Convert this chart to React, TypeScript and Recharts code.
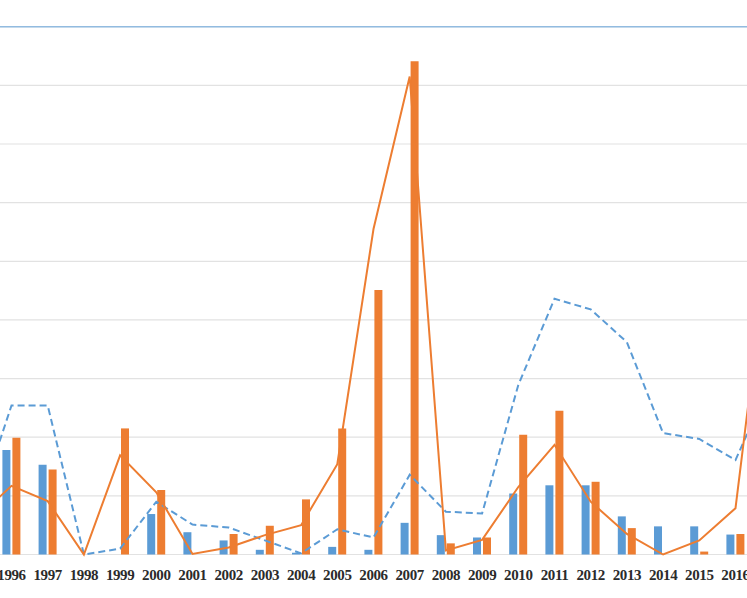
import React from "react";
import {
  ComposedChart,
  Bar,
  Line,
  XAxis,
  YAxis,
  CartesianGrid,
  ReferenceLine,
} from "recharts";

// years, incl. one off-screen category on each side (the original chart is cropped)
const years = [
  "1995", "1996", "1997", "1998", "1999", "2000", "2001", "2002", "2003", "2004", "2005", "2006",
  "2007", "2008", "2009", "2010", "2011", "2012", "2013", "2014", "2015", "2016", "2017",
];

const blueBars = [
  null, 17.8, 15.3, 0, 0, 6.9, 3.8, 2.4, 0.8, 0.3, 1.3, 0.8,
  5.4, 3.3, 2.9, 10.4, 11.8, 11.8, 6.5, 4.8, 4.8, 3.4, null,
];

const orangeBars = [
  null, 19.9, 14.5, 0, 21.5, 11.0, 0, 3.5, 4.9, 9.4, 21.5, 45.1,
  84.1, 1.9, 2.9, 20.4, 24.5, 12.4, 4.5, 0, 0.5, 3.5, null,
];

const orangeLine = [
  6.0, 11.7, 9.1, 0, 16.9, 10.6, 0.1, 1.2, 3.3, 5.0, 15.4, 55.5,
  81.5, 0.7, 2.5, 11.5, 18.7, 9.0, 3.5, 0, 2.4, 7.9, 58,
];

const blueDashed = [
  6.8, 25.4, 25.4, 0, 1.0, 9.0, 5.1, 4.6, 2.4, 0.2, 4.3, 2.9,
  13.6, 7.3, 7.0, 28.9, 43.6, 41.8, 36.2, 20.7, 19.7, 16.1, 30,
];

const yTicks = [0, 10, 20, 30, 40, 50, 60, 70, 80, 90];

const data = years.map((year, i) => ({
  year,
  a: blueBars[i],
  b: orangeBars[i],
  lineB: orangeLine[i],
  lineA: blueDashed[i],
}));

const BLUE = "#5b9bd5";
const ORANGE = "#ed7d31";

function YearTick({ x, y, payload }: { x?: number; y?: number; payload?: { value: string } }) {
  return (
    <text
      x={x}
      y={(y ?? 0) + 25}
      textAnchor="middle"
      fontFamily="'Liberation Serif', 'DejaVu Serif', serif"
      fontSize={15}
      fontWeight="bold"
      letterSpacing={-0.4}
      fill="#2b2b2b"
    >
      {payload?.value}
    </text>
  );
}

export default function App() {
  return (
    <div
      style={{
        position: "absolute",
        left: 0,
        top: 0,
        width: 747,
        height: 598,
        overflow: "hidden",
        background: "#fff",
      }}
    >
      <div style={{ position: "absolute", left: -100, top: 0 }}>
        <ComposedChart
          width={900}
          height={598}
          data={data}
          barSize={8}
          barGap={2}
          margin={{ top: 26.7, right: 10.2, bottom: 13.5, left: 57.2 }}
        >
          <CartesianGrid vertical={false} stroke="#e2e2e2" strokeWidth={1.2} />
          <XAxis
            dataKey="year"
            height={30}
            axisLine={false}
            tickLine={false}
            tickSize={0}
            tickMargin={0}
            interval={0}
            tick={<YearTick />}
          />
          <YAxis hide domain={[0, 90]} ticks={yTicks} />
          <ReferenceLine y={90} stroke="#92bbe0" strokeWidth={1.5} />
          <Bar dataKey="a" fill={BLUE} isAnimationActive={false} />
          <Bar dataKey="b" fill={ORANGE} isAnimationActive={false} />
          <Line
            dataKey="lineA"
            type="linear"
            stroke={BLUE}
            strokeWidth={2}
            strokeDasharray="7 4"
            dot={false}
            isAnimationActive={false}
          />
          <Line
            dataKey="lineB"
            type="linear"
            stroke={ORANGE}
            strokeWidth={2}
            dot={false}
            isAnimationActive={false}
          />
        </ComposedChart>
      </div>
    </div>
  );
}
